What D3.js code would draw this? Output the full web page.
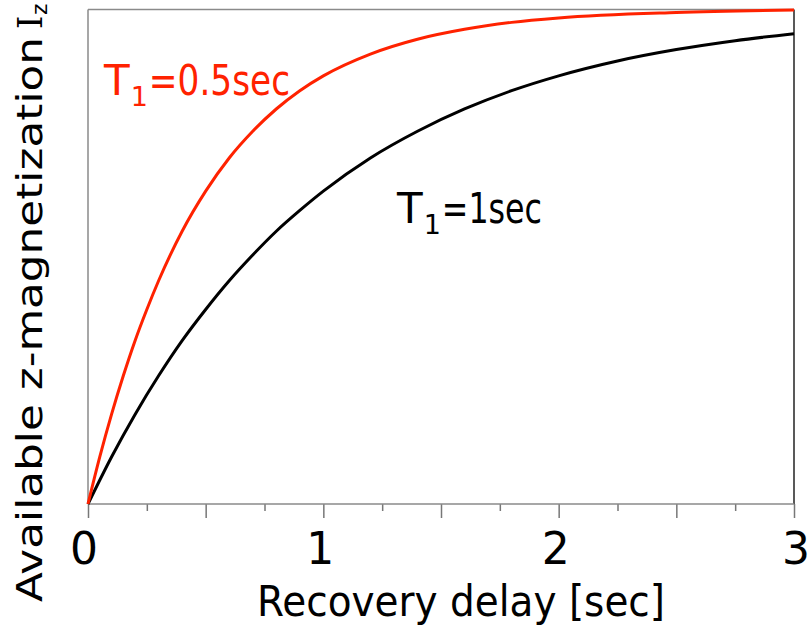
<!DOCTYPE html>
<html><head><meta charset="utf-8">
<script src="https://cdn.jsdelivr.net/npm/d3@7"></script>
<style>html,body{margin:0;padding:0;background:#fff;}</style>
</head><body>
<script>
// Data
const tSlow = [0,0.1,0.2,0.3,0.4,0.5,0.6,0.7,0.8,0.9,1.0,1.2,1.4,1.6,1.8,2.0,2.25,2.5,2.75,3.0];
const mzSlow = [0,0.095,0.181,0.259,0.33,0.393,0.451,0.503,0.551,0.593,0.632,0.699,0.753,0.798,0.835,0.865,0.895,0.918,0.936,0.95];
const tFast = [0,0.05,0.1,0.15,0.2,0.25,0.3,0.4,0.5,0.6,0.7,0.8,0.9,1.0,1.2,1.4,1.6,1.8,2.0,2.5,3.0];
const mzFast = [0,0.095,0.181,0.259,0.33,0.393,0.451,0.551,0.632,0.699,0.753,0.798,0.835,0.865,0.909,0.939,0.959,0.973,0.982,0.993,0.998];
const xTickLabels = [0,1,2,3];
const xMajorTicks = [0,0.5,1,1.5,2,2.5,3];
const xMinorTicks = [0.25,0.75,1.25,1.75,2.25,2.75];

const W = 812, H = 631;
const font = "'Comic Sans MS','DejaVu Sans',sans-serif";
const svg = d3.select("body").append("svg").attr("width", W).attr("height", H);

const x = d3.scaleLinear().domain([0,3]).range([88,794]);
const y = d3.scaleLinear().domain([0,1]).range([504,9]);

// frame
svg.append("line").attr("x1",88).attr("x2",794).attr("y1",9.5).attr("y2",9.5).attr("stroke","#8a8a8a").attr("stroke-width",1.5);
svg.append("line").attr("x1",88).attr("x2",88).attr("y1",9.5).attr("y2",504).attr("stroke","#8a8a8a").attr("stroke-width",1.5);
svg.append("line").attr("x1",794).attr("x2",794).attr("y1",9.5).attr("y2",504).attr("stroke","#222").attr("stroke-width",1.5);

// x axis
const gx = svg.append("g").attr("transform","translate(0,504)");
gx.call(d3.axisBottom(x).tickValues(xMajorTicks).tickSize(14).tickFormat(""));
gx.call(g => g.select(".domain").remove());
gx.selectAll(".tick line").attr("stroke","#777").attr("stroke-width",1.5);
const gxm = svg.append("g").attr("transform","translate(0,504)");
gxm.call(d3.axisBottom(x).tickValues(xMinorTicks).tickSize(7).tickFormat(""));
gxm.call(g => g.select(".domain").remove());
gxm.selectAll(".tick line").attr("stroke","#777").attr("stroke-width",1.5);
svg.append("line").attr("x1",88).attr("x2",794).attr("y1",504).attr("y2",504).attr("stroke","#8a8a8a").attr("stroke-width",1.5);

svg.append("g").selectAll("text").data(xTickLabels).join("text")
  .attr("x", d => x(d) + (d===0 ? -4 : (d===3 ? 2 : -3)))
  .attr("y", 564)
  .attr("text-anchor","middle")
  .attr("font-family", font).attr("font-size", 44).attr("fill","#000")
  .text(d => d);

// curves
const line = d3.line().x(d => x(d[0])).y(d => y(d[1])).curve(d3.curveMonotoneX);
svg.append("path").datum(tSlow.map((t,i)=>[t,mzSlow[i]]))
  .attr("d", line).attr("fill","none").attr("stroke","#000").attr("stroke-width",3);
svg.append("path").datum(tFast.map((t,i)=>[t,mzFast[i]]))
  .attr("d", line).attr("fill","none").attr("stroke","#ff2200").attr("stroke-width",3);

// curve labels built from separate text pieces
function t1label(x0, yb, totalW, val, color){
  const g = svg.append("g").attr("fill",color).attr("font-family",font);
  const tT = g.append("text").attr("x",x0).attr("y",yb).attr("font-size",42).text("T");
  const wT = tT.node().getComputedTextLength();
  const tS = g.append("text").attr("x",x0+wT+1).attr("y",yb+11).attr("font-size",27).text("1");
  const wS = tS.node().getComputedTextLength();
  const start = x0+wT+wS+2;
  g.append("text").attr("x",start).attr("y",yb).attr("font-size",42)
    .attr("textLength", x0+totalW-start).attr("lengthAdjust","spacingAndGlyphs")
    .text("=" + val + "sec");
}
t1label(104, 95, 186, "0.5", "#ff2200");
t1label(397, 223, 145, "1", "#000");

// axis titles
svg.append("text").attr("x",257).attr("y",616)
  .attr("font-family",font).attr("font-size",42).attr("fill","#000")
  .attr("textLength",408).attr("lengthAdjust","spacingAndGlyphs")
  .text("Recovery delay [sec]");

const yg = svg.append("g").attr("transform","translate(42,602) rotate(-90)").attr("fill","#000");
const ymain = yg.append("text").attr("x",0).attr("y",0)
  .attr("font-family",font).attr("font-size",36)
  .attr("textLength",565).attr("lengthAdjust","spacingAndGlyphs")
  .text("Available z-magnetization");
yg.append("text").attr("x",573).attr("y",0)
  .attr("font-family","'DejaVu Serif',serif").attr("font-size",34).text("I");
yg.append("text").attr("x",587).attr("y",5)
  .attr("font-family",font).attr("font-size",22).text("z");
</script>
</body></html>
